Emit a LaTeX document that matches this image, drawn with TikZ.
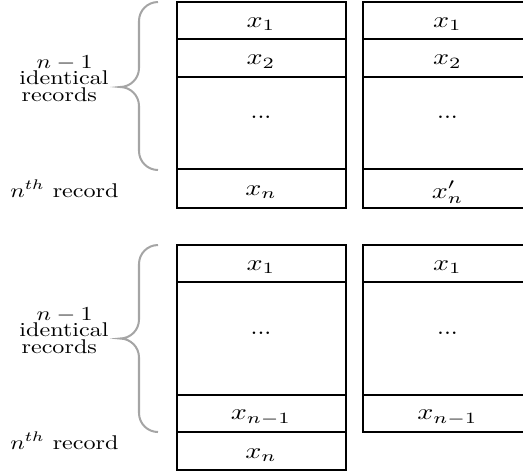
\documentclass[tikz,border=0pt]{standalone}
\usepackage{graphicx}
\usetikzlibrary{fit}
\definecolor{bracegray}{RGB}{165,165,165}
\newcommand\ctext[1]{\scalebox{1.19}[0.95]{#1}}
\newcommand\ltext[1]{\scalebox{1.02}[0.84]{#1}}
\newcommand\cellbox[6]{%
  \node[cell, fit={(#2,#3) (#4,#5)}] (#1) {};
  \node[celltext] (#1t) at (#1.center) {\ctext{#6}};}
\newcommand\dotsbox[5]{%
  \node[cell, fit={(#2,#3) (#4,#5)}] (#1) {};
  \node[dotstext] (#1t) at (#1.center) {\scalebox{1.05}[1]{...}};}
\newcommand\curlybrace[3]{%
  \draw[bracegraystyle] (158,#1) .. controls (147.5,#1) and (139,{#1+8.5}) .. (139,{#1+19})
    -- (139,{#3-19}) .. controls (139,{#3-8.5}) and (130.5,#3) .. (120,#3)
    .. controls (130.5,#3) and (139,{#3+8.5}) .. (139,{#3+19})
    -- (139,{#2-19}) .. controls (139,{#2-8.5}) and (147.5,#2) .. (158,#2);}
\newcommand\threelines{\vtop{\baselineskip=7.1pt\lineskiplimit=-\maxdimen\lineskip=0pt
  \halign{\hfil##\hfil\cr
    \ltext{$n-1$}\kern-0.6pt\cr
    \ltext{identical}\cr
    \ltext{records}\kern4pt\cr}}}
\begin{document}
\begin{tikzpicture}[x=0.423pt,y=-0.423pt,
  cell/.style={draw, line width=0.85pt, inner sep=0pt},
  celltext/.style={inner sep=0pt, yshift=-1.6pt},
  dotstext/.style={inner sep=0pt, yshift=2.5pt},
  bracegraystyle/.style={draw=bracegray, line width=0.85pt},
  lbl/.style={anchor=base, inner sep=0pt}]
\useasboundingbox (0,0) rectangle (523,475);
% top group, left column
\cellbox{a1}{176.5}{2}{345.5}{39.3}{$x_1$}
\cellbox{a2}{176.5}{39.3}{345.5}{76.7}{$x_2$}
\dotsbox{a3}{176.5}{76.7}{345.5}{169}
\cellbox{a4}{176.5}{169}{345.5}{208.3}{$x_n$}
% top group, right column
\cellbox{b1}{363}{2}{532}{39.3}{$x_1$}
\cellbox{b2}{363}{39.3}{532}{76.7}{$x_2$}
\dotsbox{b3}{363}{76.7}{532}{169}
\cellbox{b4}{363}{169}{532}{208.3}{$x_n'$}
% bottom group, left column
\cellbox{c1}{176.5}{245}{345.5}{282.3}{$x_1$}
\dotsbox{c2}{176.5}{282.3}{345.5}{395}
\cellbox{c3}{176.5}{395}{345.5}{432.3}{$x_{n-1}$}
\cellbox{c4}{176.5}{432.3}{345.5}{470}{$x_n$}
% bottom group, right column
\cellbox{d1}{363}{245}{532}{282.3}{$x_1$}
\dotsbox{d2}{363}{282.3}{532}{395}
\cellbox{d3}{363}{395}{532}{432.3}{$x_{n-1}$}
% braces
\curlybrace{2}{170}{87}
\curlybrace{245}{432}{338.5}
% labels
\node[lbl] (la) at (64,68) {\threelines};
\node[lbl] (la4) at (64.5,197) {\ltext{$n^{th}$ record}};
\node[lbl] (lb) at (64,320) {\threelines};
\node[lbl] (lb4) at (64.5,449) {\ltext{$n^{th}$ record}};
\end{tikzpicture}
\end{document}
